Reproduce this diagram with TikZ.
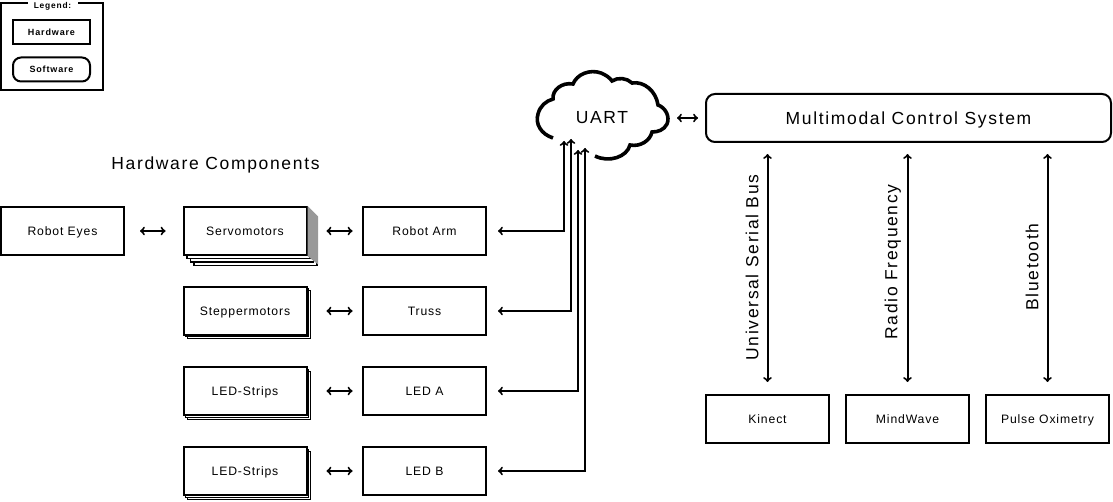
\documentclass[tikz,border=0pt]{standalone}
\usepackage{fontspec}
\setmainfont[LetterSpace=7]{Liberation Sans}
\newfontfamily\widefont[LetterSpace=9.5]{Liberation Sans}
\usetikzlibrary{shadows}
\tikzset{
  hwnode/.style={draw, line width=2pt, fill=white, minimum width=123pt, minimum height=48pt, inner sep=0pt, text height=9pt, text depth=0pt, font=\fontsize{12.2}{14}\selectfont},
  stackone/.style={copy shadow={shadow xshift=4pt, shadow yshift=-4pt, line width=1pt}, copy shadow={shadow xshift=2pt, shadow yshift=-2pt, line width=1pt}},
  stackmany/.style={copy shadow={shadow xshift=10.5pt, shadow yshift=-10.5pt, line width=1.5pt}, copy shadow={shadow xshift=7pt, shadow yshift=-7pt, line width=1.5pt}, copy shadow={shadow xshift=3.5pt, shadow yshift=-3.5pt, line width=1.5pt}},
  legendnode/.style={draw, line width=2pt, minimum width=77pt, minimum height=24pt, inner sep=0pt, text height=6.5pt, text depth=0pt, font=\fontsize{9}{11}\widefont\bfseries\selectfont},
  link/.style={<->, line width=2pt},
  heading/.style={font=\fontsize{17.5}{20}\widefont\selectfont, inner sep=0pt, text height=12.5pt, text depth=0pt}
}
\begin{document}
\begin{tikzpicture}[x=1pt,y=-1pt]
  \useasboundingbox (0,0) rectangle (1113,502);

  % legend
  \node [draw, line width=2pt, minimum width=102pt, minimum height=87pt, inner sep=0pt] (legend) at (52,46.5) {};
  \node [fill=white, inner sep=3pt, text height=6.5pt, text depth=0pt, minimum width=50pt, font=\fontsize{8.4}{11}\widefont\bfseries\selectfont] (legendtitle) at (52.5,5.5) {Legend:};
  \node [legendnode] (legendhw) at (51.5,32) {Hardware};
  \node [legendnode, rounded corners=8pt] (legendsw) at (51.5,69.5) {Software};

  \node [heading] (hwtitle) at (215.5,163.5) {Hardware Components};

  % hardware column
  \node [hwnode] (eyes) at (62.5,231) {Robot Eyes};
  \node [hwnode, stackmany] (servo) at (245,231) {Servomotors};
  \fill [gray!80] (servo.north east) -- ++(10.5,10.5) -- ++(0,48) -- (servo.south east) -- cycle;
  \node [hwnode, stackone] (stepper) at (245,311) {Steppermotors};
  \node [hwnode, stackone] (stripa) at (245,391) {LED-Strips};
  \node [hwnode, stackone] (stripb) at (245,471) {LED-Strips};

  \node [hwnode] (arm) at (424.5,231) {Robot Arm};
  \node [hwnode] (truss) at (424.5,311) {Truss};
  \node [hwnode] (leda) at (424.5,391) {LED A};
  \node [hwnode] (ledb) at (424.5,471) {LED B};

  % sensors
  \node [hwnode] (kinect) at (767.5,419) {Kinect};
  \node [hwnode] (mindwave) at (907.5,419) {MindWave};
  \node [hwnode] (pulse) at (1047.5,419) {Pulse Oximetry};

  \node [hwnode, rounded corners=9pt, minimum width=405pt, text height=12.5pt, font=\fontsize{17.5}{20}\widefont\selectfont] (control) at (908.5,118) {Multimodal Control System};

  % cloud with its gap at the bottom
  \draw [line width=3.6pt]
    (553,138) .. controls (541,134) and (535,124) .. (538,114)
    .. controls (540,106) and (546,101) .. (553,99)
    .. controls (552,90) and (562,82) .. (573,84)
    .. controls (577,74) and (590,69) .. (601,73)
    .. controls (606,75) and (610,78) .. (612,81)
    .. controls (618,77) and (627,78) .. (632,83)
    .. controls (644,81) and (656,91) .. (658,105)
    .. controls (666,108) and (670,117) .. (667,124)
    .. controls (664,130) and (658,132) .. (652,132)
    .. controls (650,141) and (640,147) .. (630,145)
    .. controls (627,157) and (609,163) .. (595,156);
  \node [heading] (uart) at (602,117.5) {UART};
  \coordinate (uarteast) at (669,118);
  \coordinate (uarta) at (564,141);
  \coordinate (uartb) at (571,139);
  \coordinate (uartc) at (578,150);
  \coordinate (uartd) at (585,148);

  \draw [link, shorten <=15pt, shorten >=17pt] (eyes) -- (servo);
  \draw [link, shorten <=19pt, shorten >=9.5pt] (servo) -- (arm);
  \draw [link, shorten <=19pt, shorten >=9.5pt] (stepper) -- (truss);
  \draw [link, shorten <=19pt, shorten >=9.5pt] (stripa) -- (leda);
  \draw [link, shorten <=19pt, shorten >=9.5pt] (stripb) -- (ledb);

  \draw [link, shorten <=11pt] (arm) -| (uarta);
  \draw [link, shorten <=11pt] (truss) -| (uartb);
  \draw [link, shorten <=11pt] (leda) -| (uartc);
  \draw [link, shorten <=11pt] (ledb) -| (uartd);

  \draw [link, shorten <=8pt, shorten >=7pt] (uarteast) -- (control);

  \draw [link, shorten <=12pt, shorten >=11pt] (kinect) -- (kinect |- control.south);
  \draw [link, shorten <=12pt, shorten >=11pt] (mindwave) -- (mindwave |- control.south);
  \draw [link, shorten <=12pt, shorten >=11pt] (pulse) -- (pulse |- control.south);

  \node [heading, rotate=90] (usb) at (752,267.5) {Universal Serial Bus};
  \node [heading, rotate=90] (rf) at (891,262) {Radio Frequency};
  \node [heading, rotate=90] (bt) at (1032,267) {Bluetooth};
\end{tikzpicture}
\end{document}
